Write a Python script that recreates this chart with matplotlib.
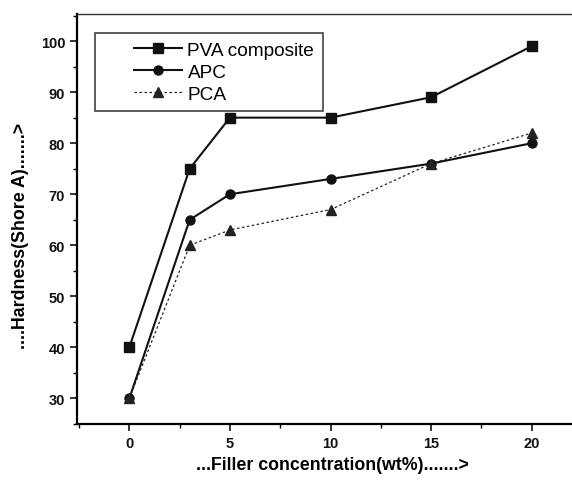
import matplotlib
matplotlib.use("Agg")
import matplotlib.pyplot as plt
from matplotlib.ticker import MultipleLocator
from matplotlib.legend_handler import HandlerLine2D

plt.rcParams['font.family'] = ['Liberation Sans', 'DejaVu Sans']

filler = [0, 3, 5, 10, 15, 20]
pva = [40, 75, 85, 85, 89, 99]
apc = [30, 65, 70, 73, 76, 80]
pca = [30, 60, 63, 67, 76, 82]


class ShiftedHandler(HandlerLine2D):
    def __init__(self, shift, **kw):
        super().__init__(**kw)
        self.shift = shift

    def create_artists(self, legend, orig_handle, xdescent, ydescent, width, height, fontsize, trans):
        return super().create_artists(legend, orig_handle, xdescent - self.shift, ydescent,
                                      width - self.shift, height, fontsize, trans)


fig = plt.figure(figsize=(5.72, 4.81), dpi=100)
ax = fig.add_axes([0.1346, 0.1164, 0.8654, 0.8524])

l1, = ax.plot(filler, pva, '-s', color='#111111', lw=1.5, ms=6.5, label='PVA composite')
l2, = ax.plot(filler, apc, '-o', color='#111111', lw=1.5, ms=6.5, label='APC')
l3, = ax.plot(filler, pca, linestyle=(0, (2, 2)), marker='^', color='#222222', lw=0.9, ms=6.5, label='PCA')

ax.set_xlim(-2.6, 22)
ax.set_ylim(25, 105.3)
ax.set_xticks([0, 5, 10, 15, 20])
ax.set_yticks([30, 40, 50, 60, 70, 80, 90, 100])
ax.xaxis.set_minor_locator(MultipleLocator(2.5))
ax.yaxis.set_minor_locator(MultipleLocator(5))
ax.tick_params(which='major', direction='out', length=5, width=1.2, labelsize=10.5, colors='#111111')
ax.tick_params(which='minor', direction='out', length=3, width=1.0)
for lab in ax.get_xticklabels() + ax.get_yticklabels():
    lab.set_fontweight('bold')

ax.spines['right'].set_visible(False)
ax.spines['left'].set_linewidth(1.6)
ax.spines['bottom'].set_linewidth(1.6)
ax.spines['top'].set_linewidth(1.0)
ax.spines['top'].set_linestyle((0, (6, 1)))
ax.spines['top'].set_color('#333333')

ax.set_xlabel('...Filler concentration(wt%).......>', fontsize=12.8, fontweight='bold')
ax.set_ylabel('....Hardness(Shore A).......>', fontsize=12.8, fontweight='bold')
ax.xaxis.set_label_coords(0.517, -0.098)
ax.xaxis.label.set_va('center')
ax.yaxis.set_label_coords(-0.115, 0.461)
ax.yaxis.label.set_va('center')

hmap = {h: ShiftedHandler(22.3) for h in (l1, l2, l3)}
leg = ax.legend(handles=[l1, l2, l3], handler_map=hmap,
                loc='upper left', bbox_to_anchor=(0.036, 0.954), fontsize=13.7,
                frameon=True, fancybox=False, edgecolor='#111111', borderaxespad=0,
                handlelength=4.15, borderpad=0.45, labelspacing=0.25, handletextpad=0.27)
leg.get_frame().set_linewidth(1.2)

fig.savefig('out.png', dpi=100)
